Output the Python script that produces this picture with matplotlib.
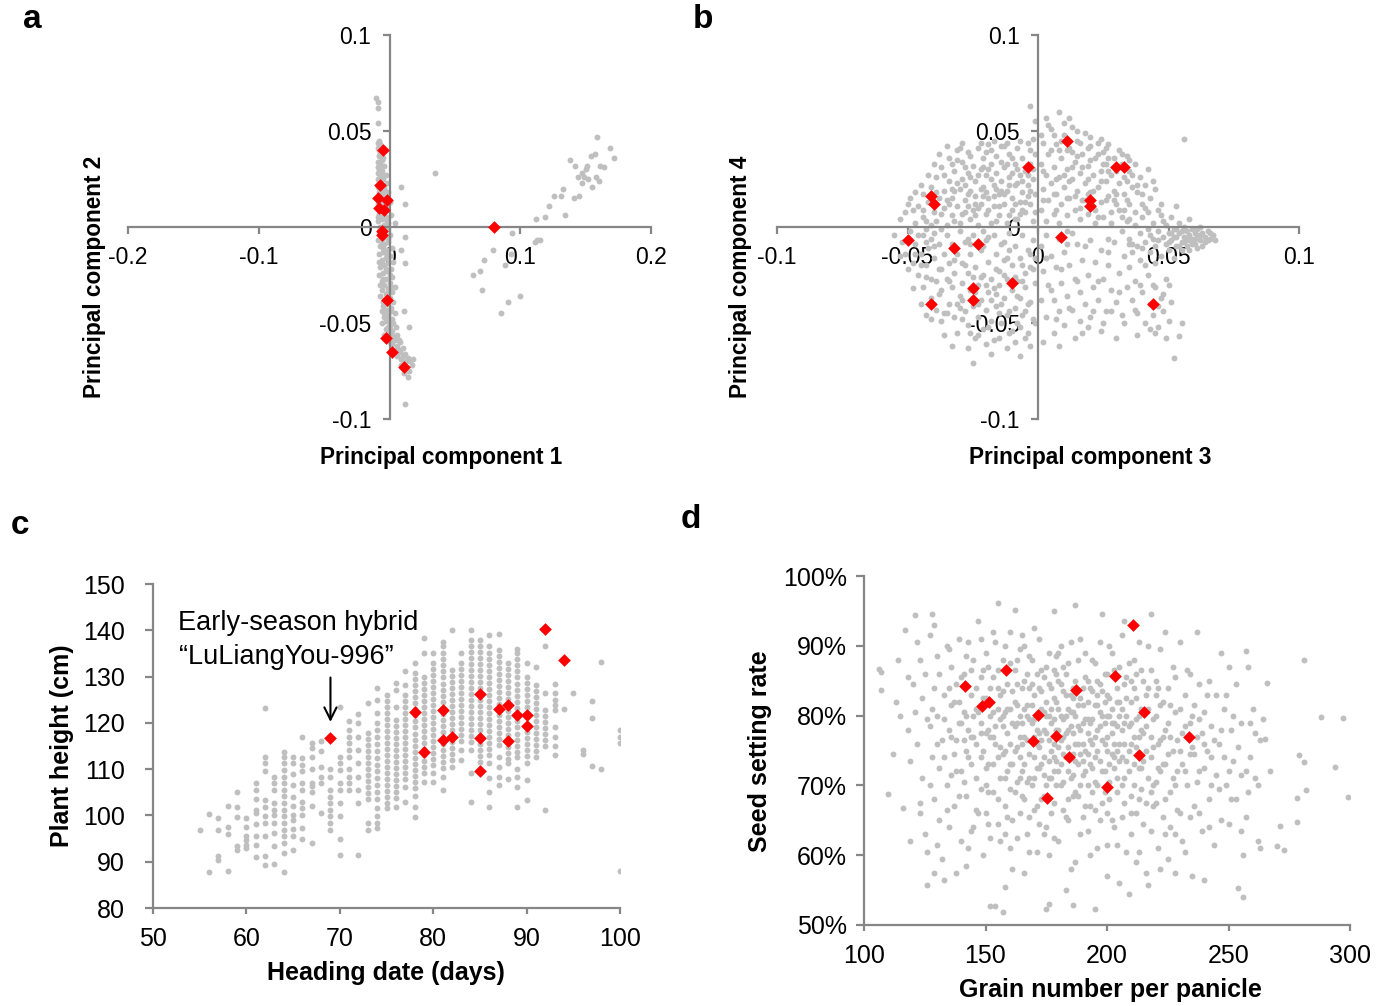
import numpy as np
import matplotlib.pyplot as plt
from matplotlib.ticker import FuncFormatter

plt.rcParams['font.family'] = ['Liberation Sans', 'DejaVu Sans']
plt.rcParams['axes.unicode_minus'] = False

GRAY = '#BFBFBF'
RED = '#FF0000'
AXC = '#868686'

# ---------------- panel a : PC1 vs PC2 (values x 1e-3) ----------------
pc12_gray = [
    (-8, 45), (-7, 43), (-9, 41), (-6, 39), (-8, 37), (-5, 36), (-9, 34), (-7, 33), (-4, 32), (-8, 30),
    (-6, 29), (-9, 28), (-3, 27), (-7, 26), (-5, 25), (-8, 24), (-2, 23), (-6, 22), (-9, 21), (-4, 20),
    (-7, 19), (-1, 18), (-5, 17), (-8, 16), (-3, 15), (-6, 14), (0, 13), (-9, 12), (-4, 11), (-7, 10),
    (-2, 9), (-5, 8), (-8, 7), (1, 6), (-3, 5), (-6, 4), (-9, 3), (-1, 2), (-4, 1), (-7, 0),
    (-2, -1), (-5, -2), (-8, -3), (0, -4), (-3, -5), (-6, -6), (-9, -7), (-1, -8), (-4, -9), (-7, -10),
    (2, -11), (-2, -12), (-5, -13), (-8, -14), (0, -15), (-3, -16), (-6, -17), (3, -18), (-1, -19), (-4, -20),
    (-7, -21), (1, -22), (-2, -23), (-5, -24), (-8, -25), (2, -26), (-3, -27), (-6, -28), (0, -29), (-4, -30),
    (4, -31), (-1, -32), (-6, -33), (2, -34), (-3, -35), (-7, -36), (0, -37), (-4, -38), (3, -39), (-2, -40),
    (-5, -41), (1, -42), (-3, -43), (-6, -44), (4, -45), (-1, -46), (-4, -47), (2, -48), (-2, -49), (-6, -50),
    (0, -51), (5, -52), (-3, -53), (2, -54), (-1, -55), (6, -56), (1, -57), (-2, -58), (4, -59), (8, -60),
    (2, -61), (6, -62), (10, -63), (4, -64), (8, -65), (12, -66), (6, -67), (14, -68), (9, -69), (16, -70),
    (11, -71), (18, -69), (13, -73), (15, -75), (11, -76), (14, -78), (9, -72), (17, -72),
    (-8, 40), (-6, 35), (-9, 31), (-5, 27), (-7, 23), (-4, 21), (-8, 18), (-6, 12), (-3, 10), (-8, 9),
    (-5, 6), (-2, 3), (-7, -1), (-4, -3), (-1, -6), (-5, -11), (-2, -14), (-6, -19), (-3, -22), (0, -25),
    (-5, -27), (1, -31), (-2, -36), (-5, -39), (1, -44), (-3, -48), (3, -50), (0, -53), (-4, -56), (3, -57),
    (0, -60), (5, -66), (7, -64), (-9, 44), (-7, 38), (-9, 25), (-7, 14), (-9, 5), (-6, -9), (-8, -18),
    (-7, -30), (-1, -34), (-4, -45), (-1, -52), (2, -58), (7, -59), (10, -67), (13, -70),
    (-10, 67), (-9, 65), (-9, 62), (-9, 54), (35, 28), (9, 21), (12, 12), (4, 2), (12, -5), (9, -12),
    (12, -19), (11, -44), (15, -52), (12, -92),
    (64, -25), (69, -23), (71, -33), (72, -17), (79, -12), (85, -45), (91, -39), (88, -20), (93, -14), (100, -36),
    (94, -3), (112, 4), (119, 5), (113, -7), (111, -8), (115, -7), (134, 6), (122, 11), (126, 16), (131, 16),
    (133, 20), (141, 15), (145, 16), (138, 35), (142, 32), (147, 28), (150, 30), (151, 32), (152, 25), (155, 21),
    (158, 26), (160, 24), (154, 37), (157, 38), (161, 32), (164, 31), (159, 47), (169, 41), (172, 36), (149, 26),
    (147, 23), (144, 26),
]
pc12_red = [
    (-5, 40), (-7, 22), (-9, 15), (-2, 14), (-8, 10), (-4, 9), (-6, -2), (-6, -4),
    (-2, -38), (-3, -58), (2, -65), (11, -73), (80, 0),
]

# ---------------- panel b : PC3 vs PC4 (values x 1e-3) ----------------
pc34_gray = [
    # upper left
    (-51, 8), (-49, 15), (-47, 2), (-46, 11), (-44, 17), (-44, 5), (-43, -1), (-42, 13), (-41, 21), (-40, 8),
    (-39, 26), (-39, 3), (-38, 15), (-37, 31), (-36, 19), (-36, 10), (-35, 1), (-34, 24), (-34, 36), (-33, 6),
    (-33, 15), (-32, 29), (-31, 40), (-31, 11), (-30, 20), (-30, 2), (-29, 34), (-29, 25), (-28, 8), (-28, 14),
    (-27, 39), (-27, 28), (-26, 19), (-26, 4), (-25, 32), (-25, 9), (-24, 24), (-24, 16), (-23, 41), (-23, 1),
    (-22, 30), (-22, 12), (-21, 21), (-21, 36), (-20, 7), (-20, 27), (-19, 15), (-19, 43), (-18, 33), (-18, 2),
    (-17, 22), (-17, 11), (-16, 37), (-16, 28), (-15, 17), (-15, 6), (-14, 42), (-14, 24), (-13, 12), (-13, 31),
    (-12, 2), (-12, 19), (-11, 38), (-11, 26), (-10, 9), (-10, 15), (-9, 33), (-9, 22), (-8, 4), (-8, 41),
    (-7, 27), (-7, 13), (-6, 36), (-6, 18), (-5, 8), (-5, 29), (-4, 44), (-4, 22), (-3, 12), (-3, 33),
    (-2, 3), (-2, 25), (-1, 17), (-1, 38),
    (-45, 22), (-42, 27), (-40, 33), (-38, 38), (-35, 42), (-33, 20), (-29, 44), (-26, 37), (-24, 6), (-21, 16),
    (-19, 30), (-16, 20), (-14, 34), (-12, 44), (-10, 28), (-8, 23), (-6, 9), (-4, 16), (-27, 17), (-32, 3),
    (-37, 7), (-48, 9), (-53, 4), (-50, 12), (-46, -4), (-41, -6), (-17, 45), (-23, 10), (-28, 31), (-33, 33),
    (-18, 25), (-11, 6), (-7, 45), (-2, 46), (-13, 17), (-9, 12), (-22, 44), (-36, 27), (-31, 23), (-20, 39),
    (-37, -1), (-34, 12), (-29, 7), (-26, 26), (-22, 20), (-18, 40), (-15, 11), (-12, 33), (-9, 4), (-6, 24),
    (-3, 40), (-44, 9), (-39, 18), (-31, 35), (-24, 12), (-19, 9), (-14, 19), (-10, 36), (-5, 13), (-2, 30),
    (-41, 1), (-35, 14), (-28, 22), (-23, 27), (-20, 18), (-16, 3), (-13, 42), (-8, 30), (-4, 27), (-1, 8),
    (-47, 18), (-43, 3), (-32, 19), (-27, 11), (-21, 31), (-17, 16), (-11, 22), (-7, 7), (-3, 19), (-30, 41),
    # upper right
    (1, 9), (1, 33), (2, 20), (2, 44), (3, 3), (3, 27), (4, 14), (4, 38), (5, 51), (5, 23),
    (6, 7), (6, 31), (7, 43), (7, 17), (8, 26), (8, 2), (9, 36), (9, 12), (10, 48), (10, 21),
    (11, 30), (11, 6), (12, 41), (12, 15), (13, 25), (13, 52), (14, 34), (14, 9), (15, 19), (15, 45),
    (16, 28), (16, 4), (17, 38), (17, 14), (18, 23), (18, 49), (19, 32), (19, 7), (20, 42), (20, 18),
    (21, 27), (21, 11), (22, 36), (22, 2), (23, 21), (23, 44), (24, 29), (24, 13), (25, 39), (25, 5),
    (26, 24), (26, 33), (27, 16), (27, 43), (28, 8), (28, 27), (29, 36), (29, 19), (30, 12), (30, 29),
    (31, 40), (31, 23), (32, 5), (32, 33), (33, 17), (33, 26), (34, 37), (35, 12), (35, 29), (36, 21),
    (37, 8), (37, 33), (38, 18), (39, 26), (40, 12), (41, 22), (42, 30), (43, 15), (45, 20), (47, 12),
    (3, 57), (8, 60), (12, 57), (6, 48), (10, 54), (15, 50), (20, 47), (23, 38), (13, 39), (16, 10),
    (26, 14), (31, 9), (35, 4), (2, 14), (7, 25), (11, 40), (19, 25), (24, 46), (28, 2), (34, 24),
    (56, 46), (-3, 63), (-1, 55),
    (2, 29), (5, 40), (7, 9), (9, 45), (12, 24), (14, 16), (17, 31), (19, 41), (21, 19), (23, 5),
    (25, 33), (27, 29), (30, 17), (32, 38), (34, 14), (36, 27), (4, 53), (8, 40), (11, 15), (13, 31),
    (16, 44), (18, 14), (20, 35), (22, 9), (24, 24), (26, 41), (29, 14), (31, 31), (33, 9), (38, 22),
    (40, 17), (42, 8), (44, 24), (1, 48), (6, 17), (10, 27), (15, 37), (19, 17), (27, 36), (35, 35),
    # right tail
    (32, -2), (34, 3), (35, -6), (37, 1), (38, -10), (39, -3), (40, 5), (41, -8), (42, -1), (43, -13),
    (44, 2), (44, -6), (45, -10), (46, -2), (47, -15), (47, 6), (48, -5), (49, -9), (49, 1), (50, -3),
    (50, -12), (51, -7), (52, -1), (52, -16), (53, -5), (53, -10), (54, -3), (54, 2), (55, -8), (55, -12),
    (56, -5), (56, 0), (57, -2), (57, -10), (58, -7), (58, -4), (59, -1), (59, -9), (60, -6), (60, -3),
    (61, -11), (61, -4), (62, -7), (62, 0), (63, -3), (64, -8), (64, -5), (65, -2), (66, -6), (67, -4),
    (68, -7), (46, 9), (51, 5), (58, 4), (53, 11), (41, 10), (36, -13), (45, -19),
    (40, -11), (43, -4), (46, -7), (48, 3), (50, -8), (52, -5), (54, -10), (56, -8), (58, -12), (60, -9),
    (62, -4), (63, -10), (65, -7), (57, -6), (55, -2), (53, -1), (51, -3), (59, -6), (61, -1), (66, -3),
    # lower left
    (-55, -4), (-52, -8), (-51, -14), (-49, -2), (-48, -19), (-47, -9), (-46, -25), (-45, -14), (-44, -4), (-44, -31),
    (-43, -20), (-42, -11), (-41, -37), (-41, -27), (-40, -16), (-40, -3), (-39, -43), (-38, -22), (-38, -9), (-37, -33),
    (-37, -49), (-36, -14), (-35, -27), (-35, -4), (-34, -40), (-34, -19), (-33, -31), (-33, -9), (-32, -47), (-32, -24),
    (-31, -14), (-31, -55), (-30, -36), (-30, -2), (-29, -29), (-29, -19), (-28, -44), (-28, -8), (-27, -51), (-27, -24),
    (-26, -33), (-26, -14), (-25, -41), (-25, -4), (-24, -58), (-24, -21), (-23, -30), (-23, -47), (-22, -12), (-22, -38),
    (-21, -25), (-21, -53), (-20, -43), (-20, -7), (-19, -18), (-19, -34), (-18, -49), (-18, -27), (-17, -4), (-17, -59),
    (-16, -14), (-16, -41), (-15, -30), (-15, -23), (-14, -50), (-14, -9), (-13, -37), (-13, -17), (-12, -46), (-12, -27),
    (-11, -3), (-11, -55), (-10, -33), (-10, -20), (-9, -42), (-9, -10), (-8, -28), (-8, -50), (-7, -16), (-7, -37),
    (-6, -4), (-6, -46), (-5, -24), (-5, -31), (-4, -12), (-4, -55), (-3, -39), (-3, -21), (-2, -7), (-2, -48),
    (-1, -29), (-1, -16),
    (-45, -40), (-43, -46), (-39, -28), (-36, -56), (-33, -62), (-29, -48), (-27, -63), (-25, -71), (-23, -56), (-20, -61),
    (-18, -66), (-15, -58), (-12, -63), (-9, -60), (-7, -67), (-5, -58), (-3, -62), (-30, -42), (-36, -45), (-48, -32),
    (-50, -22), (-53, -15), (-43, -8), (-26, -9), (-21, -2), (-16, -35), (-11, -44), (-6, -20), (-13, -8), (-19, -5),
    (-47, -14), (-43, -26), (-40, -10), (-38, -35), (-35, -45), (-32, -17), (-29, -38), (-27, -6), (-25, -26), (-23, -40),
    (-21, -10), (-19, -52), (-17, -32), (-15, -45), (-13, -25), (-11, -12), (-9, -26), (-7, -52), (-5, -44), (-3, -14),
    (-1, -50), (-45, -20), (-41, -48), (-37, -22), (-34, -28), (-31, -40), (-28, -20), (-26, -55), (-24, -34), (-22, -26),
    (-20, -30), (-18, -38), (-16, -22), (-14, -40), (-12, -16), (-10, -54), (-8, -36), (-6, -28), (-4, -40), (-2, -22),
    # lower right
    (1, -10), (1, -38), (2, -23), (3, -4), (3, -47), (4, -30), (5, -15), (6, -55), (6, -38), (7, -21),
    (8, -6), (8, -44), (9, -29), (10, -13), (10, -51), (11, -36), (12, -20), (13, -3), (13, -43), (14, -27),
    (15, -9), (16, -49), (16, -34), (17, -17), (18, -40), (19, -25), (20, -7), (20, -47), (21, -31), (22, -18),
    (23, -38), (24, -12), (25, -27), (26, -44), (27, -20), (28, -33), (29, -8), (30, -39), (31, -24), (32, -46),
    (33, -15), (34, -31), (35, -21), (36, -38), (37, -28), (38, -45), (39, -17), (40, -34), (41, -50), (42, -25),
    (43, -40), (44, -46), (45, -31), (46, -52), (47, -37), (48, -44), (49, -27), (50, -49), (51, -39), (52, -68),
    (55, -50), (38, -56), (30, -58), (14, -58), (8, -62), (45, -55), (49, -58), (54, -57), (24, -54), (19, -52),
    (2, -60), (27, -6), (36, -9), (11, -2),
    (3, -16), (5, -33), (7, -48), (9, -22), (11, -9), (12, -42), (15, -28), (17, -55), (18, -10), (21, -44),
    (23, -28), (25, -50), (27, -13), (28, -44), (31, -34), (33, -50), (35, -9), (37, -43), (39, -30), (41, -20),
    (43, -53), (44, -30), (46, -41), (48, -35), (50, -30),
]
pc34_red = [
    (11, 45), (-4, 31), (30, 31), (33, 31), (-41, 16), (-40, 12), (20, 14), (20, 11),
    (9, -5), (-50, -7), (-32, -11), (-23, -9), (-10, -29), (-25, -32), (-25, -38), (-41, -40), (44, -40),
]

# ---------------- panel c : heading date vs plant height ----------------
heading_days = [55, 56, 57, 58, 59, 60, 61, 62, 63, 64, 65, 66, 67, 68, 69, 70, 71, 72, 73, 74,
                75, 76, 77, 78, 79, 80, 81, 82, 83, 84, 85, 86, 87, 88, 89, 90, 91, 92, 93, 94,
                95, 96, 97, 98, 100]
plant_heights = [
    [96.8],
    [100.4, 87.8],
    [99.4, 96.8, 91.2, 90.3],
    [102.1, 97.6, 96.0, 88.0],
    [105.0, 101.8, 99.6, 93.5, 92.6],
    [99.4, 97.6, 95.5, 94.6, 93.6, 92.9],
    [107.0, 105.5, 103.6, 101.2, 100.5, 98.2, 95.5, 93.7, 91.0],
    [123.2, 112.7, 111.3, 109.5, 103.4, 101.9, 99.8, 98.3, 95.5, 91.2, 89.2],
    [108.4, 107.0, 105.5, 102.7, 101.2, 100.1, 98.3, 96.2, 93.3, 89.4],
    [113.6, 112.7, 111.3, 109.8, 108.4, 107.0, 105.5, 104.1, 102.7, 101.2, 99.8, 98.3, 96.9, 95.5, 94.0, 91.9, 87.7],
    [112.7, 111.3, 109.0, 106.5, 104.0, 102.0, 100.0, 99.0, 97.0, 95.5, 92.5],
    [117.0, 112.5, 111.0, 109.5, 107.0, 105.5, 103.0, 101.5, 100.0, 97.3, 95.0],
    [115.6, 114.5, 112.7, 110.0, 107.0, 106.3, 105.0, 102.0, 94.0],
    [116.0, 114.0, 110.5, 108.4, 107.0, 100.5],
    [110.0, 108.4, 105.5, 104.0, 102.7, 101.2, 99.8, 98.3, 96.9],
    [123.5, 112.7, 111.3, 109.8, 107.0, 105.5, 102.7, 99.8, 95.0, 91.5],
    [120.3, 118.5, 117.0, 115.6, 114.2, 112.7, 110.0, 108.4, 107.0, 105.5],
    [122.0, 120.0, 117.0, 114.2, 111.3, 108.4, 105.5, 102.7, 91.5],
    [124.2, 117.8, 116.5, 115.2, 113.9, 112.6, 111.3, 110.0, 108.7, 107.4, 106.1, 104.8, 103.5, 98.3, 96.9],
    [127.5, 125.0, 122.1, 120.0, 118.5, 117.0, 115.5, 114.0, 112.5, 111.0, 109.5, 108.0, 106.5, 105.0, 103.5,
     101.5, 99.8, 98.3, 97.2],
    [126.0, 124.7, 123.4, 122.1, 120.8, 119.5, 118.2, 116.9, 115.6, 114.3, 113.0, 111.7, 110.4, 109.1, 107.8,
     106.5, 105.2, 103.9, 102.6, 101.5],
    [128.7, 127.1, 123.5, 120.6, 119.3, 118.0, 116.7, 115.4, 114.1, 112.8, 111.5, 110.2, 108.9, 107.6, 106.3,
     105.0, 103.7, 101.9],
    [131.1, 128.2, 126.0, 124.7, 123.4, 122.1, 120.8, 119.5, 118.2, 116.9, 115.6, 114.3, 113.0, 111.7, 110.4,
     109.1, 107.8, 106.2, 103.0],
    [132.9, 130.7, 129.4, 128.1, 126.8, 125.5, 124.2, 122.9, 121.6, 120.3, 119.0, 117.7, 116.4, 115.1, 113.8,
     112.5, 111.2, 109.9, 108.6, 107.3, 106.0, 104.1, 101.9, 99.6],
    [138.4, 135.0, 130.0, 128.7, 127.4, 126.1, 124.8, 123.5, 122.2, 120.9, 119.6, 118.3, 117.0, 115.7, 114.4,
     113.1, 111.8, 110.5, 109.1, 107.3],
    [135.0, 132.9, 131.6, 130.3, 129.0, 127.7, 126.4, 125.1, 123.8, 122.5, 121.2, 119.9, 118.6, 117.3, 116.0,
     114.7, 113.4, 112.1, 110.8, 109.1, 107.3],
    [137.4, 136.5, 135.0, 133.7, 132.4, 131.1, 129.8, 128.5, 127.2, 125.9, 124.6, 123.3, 122.0, 120.7, 119.4,
     118.1, 116.8, 115.5, 114.2, 112.9, 111.6, 110.3, 108.4, 105.5],
    [140.1, 131.4, 130.1, 128.8, 127.5, 126.2, 124.9, 123.6, 122.3, 121.0, 119.7, 118.4, 117.1, 115.8, 114.5,
     113.2, 112.0, 110.5],
    [135.0, 132.9, 131.6, 130.3, 129.0, 127.7, 126.4, 125.1, 123.8, 122.5, 121.2, 119.9, 118.6, 117.3, 116.0,
     114.1, 112.0],
    [140.1, 137.9, 136.6, 135.3, 134.0, 132.7, 131.4, 130.1, 128.8, 127.5, 126.2, 124.9, 123.6, 122.3, 121.0,
     119.7, 118.4, 117.1, 115.8, 114.1, 109.1, 103.0],
    [137.9, 136.6, 135.3, 134.0, 132.7, 131.4, 130.1, 128.8, 127.5, 124.9, 123.6, 122.3, 121.0, 119.7, 118.4,
     117.1, 115.5, 114.2, 112.9, 111.6],
    [139.0, 136.5, 135.2, 133.9, 132.6, 131.3, 130.0, 128.7, 127.4, 126.1, 124.8, 123.5, 122.2, 120.9, 119.6,
     118.3, 117.0, 115.7, 114.4, 113.1, 111.3, 108.0, 105.0, 101.8],
    [139.3, 135.7, 134.4, 133.1, 131.8, 130.5, 129.2, 127.9, 126.6, 125.3, 124.0, 121.7, 120.4, 119.1, 117.8,
     116.5, 115.2, 112.7, 110.5, 108.4, 106.6],
    [132.9, 131.6, 130.3, 129.0, 127.7, 126.4, 125.1, 122.5, 121.2, 119.9, 118.6, 117.3, 114.7, 113.4, 112.1,
     111.3, 107.8],
    [135.9, 135.0, 133.7, 132.4, 131.1, 129.8, 128.5, 127.2, 125.9, 124.6, 123.3, 120.3, 119.0, 117.7, 116.4,
     115.1, 113.8, 112.7, 110.0, 108.2, 106.2, 101.9],
    [132.9, 130.0, 128.7, 127.4, 126.1, 124.8, 123.5, 122.2, 118.0, 116.7, 115.4, 114.1, 112.8, 111.3, 107.7, 103.3],
    [132.1, 128.2, 126.9, 125.6, 124.3, 123.0, 121.7, 120.4, 119.1, 117.8, 116.5, 115.2, 113.9, 112.7],
    [136.5, 126.4, 122.8, 121.5, 120.2, 118.9, 117.6, 116.3, 114.9, 101.2],
    [128.5, 126.4, 124.9, 123.8, 122.8, 119.2, 117.0, 114.9, 113.1],
    [123.1],
    [126.4],
    [114.1, 113.3],
    [124.7, 121.0, 110.7],
    [133.1, 110.0],
    [118.5, 117.0, 115.7, 88.0],
]
red_days = [69, 78, 79, 81, 81, 82, 85, 85, 85, 87, 88, 88, 89, 90, 90, 92, 94]
red_heights = [116.7, 122.3, 113.6, 122.7, 116.3, 117.0, 126.3, 116.7, 109.7, 123.0, 123.9, 116.0,
               121.6, 121.6, 119.4, 140.3, 133.6]

# ---------------- panel d : grain number vs seed setting rate (%) ----------------
grain_rate_gray = [
    (106, 86.7), (107, 86.2), (107, 83.6), (110, 68.7), (116, 66.7), (113, 82), (115, 80), (117, 92.2), (118, 78),
    (119, 73.5), (120, 84.5), (121, 94.4), (121, 80.5), (122, 76), (123, 88), (124, 71), (124, 82.5), (125, 86),
    (125, 63), (126, 55.8), (126, 60.5), (127, 78.5), (127, 91.5), (128, 94.6), (128, 74), (129, 68), (129, 84),
    (130, 80), (130, 88.5), (131, 65), (131, 72.5), (132, 76.5), (132, 59.5), (133, 83), (133, 56.4), (134, 90),
    (134, 70), (135, 78), (135, 64), (136, 81.5), (136, 87), (137, 74.5), (137, 67), (138, 84.5), (138, 57.5),
    (139, 79), (139, 91), (140, 72), (140, 62),
    (141, 76.5), (141, 86), (142, 80), (142, 68.5), (143, 90.5), (143, 74), (144, 83), (144, 63.5), (145, 77),
    (145, 88), (146, 71), (146, 81), (147, 93.5), (147, 66), (148, 79), (148, 85.5), (149, 75), (149, 60),
    (150, 82.5), (150, 70), (150, 89), (151, 78), (151, 64.5), (152, 52.7), (152, 84), (153, 73), (153, 80.5),
    (153, 92), (154, 52.7), (154, 76), (155, 96.2), (155, 86.5), (155, 68), (156, 79.5), (156, 62), (157, 51.8),
    (157, 74.5), (157, 83.5), (158, 71), (158, 90), (159, 77.5), (159, 65.5), (160, 81), (160, 87.5), (161, 73),
    (161, 58), (162, 95.1), (162, 78.5), (162, 69), (163, 84.5), (163, 75.5), (164, 66), (164, 80), (165, 91.5),
    (165, 72),
    (166, 77), (166, 85), (167, 63), (167, 81.5), (168, 74.5), (168, 88.5), (169, 70), (169, 79), (170, 83),
    (170, 66.5), (170, 92.5), (171, 76), (171, 60.5), (172, 80.5), (172, 72.5), (173, 86.5), (173, 68), (174, 78),
    (174, 74), (175, 52.3), (175, 82), (175, 64), (176, 53), (176, 89), (176, 76.5), (177, 71), (177, 84),
    (178, 95), (178, 79.5), (178, 67.5), (179, 73.5), (179, 86), (180, 81), (180, 62), (180, 75.5), (181, 90),
    (181, 70), (182, 83.5), (182, 77), (183, 65.5), (183, 80), (184, 72), (184, 87.5), (185, 58), (185, 78.5),
    (186, 52.9), (186, 84), (186, 74.5), (187, 95.8), (187, 69), (188, 81.5), (188, 76), (189, 91), (189, 63),
    (190, 79), (190, 71.5),
    (191, 85.5), (191, 67), (192, 77.5), (192, 82), (193, 73), (193, 60), (194, 88), (194, 79.5), (195, 52.3),
    (195, 70.5), (196, 83), (196, 75), (197, 65), (197, 90.5), (198, 94.6), (198, 80), (199, 72), (199, 86),
    (200, 77), (200, 61.5), (201, 68), (201, 82.5), (202, 74.5), (202, 89), (203, 79), (203, 64), (204, 84),
    (204, 71), (205, 56), (205, 76), (206, 81), (206, 91.5), (207, 93.5), (207, 67.5), (208, 73.5), (208, 85.5),
    (209, 54.5), (209, 78.5), (210, 63), (210, 82), (211, 70), (211, 88), (212, 75.5), (212, 59), (213, 80),
    (213, 68), (214, 86.5), (214, 72.5), (215, 77.5), (215, 64.5),
    (216, 83), (216, 57.5), (217, 55.8), (217, 90), (218, 94.6), (218, 74), (219, 79.5), (219, 67), (220, 85),
    (220, 70.5), (221, 61), (221, 76), (222, 81.5), (222, 89.5), (223, 65.5), (223, 73), (224, 78), (224, 92),
    (225, 84), (225, 59.5), (226, 69), (227, 75), (227, 87), (228, 80.5), (228, 63), (229, 72), (230, 90.5),
    (230, 66), (231, 77.5), (232, 83), (232, 60.5), (233, 70), (234, 86), (234, 74.5), (235, 57), (235, 80),
    (236, 67), (237, 92), (237, 77), (238, 72), (238, 84.5), (239, 63.5), (240, 80.5), (240, 56.5), (241, 75),
    (242, 68), (242, 85), (243, 78.5), (244, 61.5), (245, 83), (245, 71.5),
    (246, 76), (247, 89), (247, 65), (248, 81), (249, 70), (250, 87), (250, 64.5), (251, 78), (252, 73.5),
    (253, 84.5), (253, 68), (254, 55.3), (255, 79), (255, 71.5), (256, 54), (256, 60), (257, 89.3), (257, 65.5),
    (258, 87), (258, 69), (259, 74), (260, 81), (261, 77.5), (262, 62), (262, 70), (263, 61), (264, 79.5),
    (265, 76.6), (266, 84.6), (267, 72), (270, 61.3), (271, 64.2), (273, 60.8), (278, 64.8), (278, 68.2),
    (279, 74.3), (281, 73.3), (281, 88), (282, 69.4), (288, 79.8), (294, 72.6), (297, 79.6), (299, 68.4),
    (158, 80.5), (160, 76), (161, 83.5), (163, 79), (164, 74), (166, 81), (167, 76.5), (168, 79.5), (169, 84.5),
    (171, 78), (172, 75.5), (173, 81), (174, 85.5), (175, 77.5), (176, 80), (177, 75), (178, 82.5), (179, 78),
    (180, 85), (181, 76.5), (182, 79.5), (183, 74), (184, 81), (185, 83), (186, 77.5), (187, 80), (188, 73),
    (189, 82.5), (190, 76), (191, 79.5), (192, 74.5), (193, 84), (194, 76), (195, 81.5), (196, 78), (197, 73.5),
    (198, 83.5), (199, 79), (200, 75), (201, 80), (202, 77.5), (203, 72.5), (204, 78.5), (205, 82), (206, 74),
    (207, 79), (170, 74), (174, 71.5), (178, 72), (182, 70.5), (186, 68.5), (190, 73.5), (165, 79), (163, 70.5),
    (157, 78.5), (152, 77), (155, 81), (148, 74), (210, 76), (212, 79.5), (218, 77), (221, 72.5), (225, 79),
    (112, 74.5), (114, 88), (118, 85.5), (119, 62), (122, 90.5), (123, 67.5), (126, 79.5), (127, 70), (129, 93),
    (130, 61.5), (131, 86), (133, 74), (134, 66.5), (135, 89.5), (136, 71.5), (137, 82), (138, 76.5), (139, 68.5),
    (140, 85.5), (140, 79), (141, 70.5), (142, 88.5), (142, 58.5), (143, 78), (144, 73), (144, 86.5), (145, 64),
    (146, 84), (146, 76), (147, 80.5), (148, 69.5), (148, 91), (149, 82.5), (150, 77.5), (150, 66), (151, 87),
    (151, 73), (152, 80), (152, 62.5), (153, 85.5), (153, 69), (154, 78.5), (154, 90.5), (155, 74), (155, 64.5),
    (156, 83), (156, 71), (157, 88), (157, 80), (158, 67), (158, 75), (159, 84.5), (159, 72), (160, 69.5),
    (160, 92), (161, 79), (161, 65), (162, 86.5), (162, 75), (163, 81.5), (163, 62.5), (164, 77), (164, 89.5),
    (165, 84), (165, 68.5), (166, 73), (166, 90), (167, 80), (167, 70.5), (168, 84), (168, 65.5), (169, 76.5),
    (169, 88), (170, 79.5), (170, 71), (171, 86), (171, 67), (172, 77.5), (172, 91), (173, 73), (173, 83.5),
    (174, 63), (174, 80.5), (175, 87), (175, 70), (176, 73.5), (176, 84.5), (177, 79), (177, 66), (178, 86.5),
    (178, 76), (179, 70), (179, 82), (180, 78), (180, 89), (181, 73), (181, 84.5), (182, 66.5), (182, 87),
    (183, 77.5), (183, 83), (184, 75.5), (184, 68), (185, 80.5), (185, 90.5), (186, 71.5), (186, 80.5), (187, 76),
    (187, 85), (188, 68.5), (188, 88), (189, 78), (189, 74.5), (190, 84), (190, 65.5), (191, 75), (191, 89),
    (192, 70), (192, 85), (193, 79), (193, 67), (194, 83.5), (194, 72.5), (195, 77), (195, 87.5), (196, 70),
    (196, 81.5), (197, 78.5), (197, 84.5), (198, 67.5), (198, 76.5), (199, 82), (199, 69), (200, 86), (200, 80),
    (201, 73), (201, 90), (202, 81), (202, 65), (203, 86.5), (203, 76), (204, 69), (204, 82), (205, 73.5),
    (205, 87), (206, 78), (206, 65.5), (207, 84.5), (207, 71), (208, 80), (208, 60.5), (209, 75), (209, 87.5),
    (210, 68.5), (210, 79), (211, 84), (211, 73), (212, 66), (212, 86), (213, 77), (213, 90.5), (214, 69.5),
    (214, 81), (215, 73.5), (215, 85), (216, 67.5), (216, 78.5), (217, 81), (217, 71), (218, 86.5), (218, 63.5),
    (219, 75.5), (220, 80), (220, 67.5), (221, 84), (222, 72), (222, 58), (223, 77), (223, 82), (224, 68),
    (225, 74.5), (226, 81.5), (226, 64), (227, 71), (228, 85.5), (229, 76.5), (229, 66.5), (230, 81), (231, 73),
    (231, 62), (232, 78.5), (233, 86.5), (234, 65.5), (235, 75.5), (236, 81.5), (237, 70.5), (238, 66),
    (239, 77.5), (240, 72.5), (241, 83), (242, 64), (243, 70), (244, 76.5), (246, 69.5), (248, 74), (249, 83),
    (251, 68), (252, 80), (254, 75.5), (255, 63.5), (257, 72), (259, 79), (261, 71), (263, 76.5), (204, 61.5),
    (196, 61), (187, 59), (176, 60), (166, 57.5), (158, 55.5), (143, 61), (183, 55), (200, 57), (213, 60.5),
    (228, 57.5), (129, 57.5), (123, 66),
    (135, 84), (138, 72), (141, 80.5), (144, 77), (146, 66.5), (149, 86.5), (151, 69), (153, 77), (155, 84),
    (156, 75.5), (158, 63), (159, 81), (160, 73), (162, 82), (163, 88), (164, 71), (165, 76), (166, 68),
    (167, 86), (168, 71), (169, 81.5), (170, 77), (171, 72.5), (172, 84), (173, 76.5), (174, 68.5), (175, 80),
    (176, 71), (177, 81), (178, 74), (179, 88.5), (180, 72), (181, 80), (182, 74.5), (183, 86), (184, 78),
    (185, 71), (186, 82.5), (187, 73.5), (188, 78.5), (189, 70), (190, 81.5), (191, 72), (192, 79.5), (193, 76.5),
    (194, 69), (195, 74), (196, 85), (197, 80.5), (198, 72), (199, 76), (200, 83), (201, 70.5), (202, 79),
    (203, 74), (204, 75), (205, 80), (206, 70), (207, 76), (208, 82.5), (209, 72), (210, 85), (211, 77),
    (212, 82.5), (213, 72.5), (214, 78), (216, 75), (217, 84), (219, 70), (220, 83), (222, 76.5), (224, 73),
    (226, 77), (228, 70), (230, 75), (232, 72), (234, 79), (236, 74.5), (238, 79.5), (240, 76), (243, 74),
    (247, 78), (250, 72), (148, 77.5), (145, 80), (142, 75), (139, 82), (136, 77), (133, 79.5), (130, 76),
    (128, 81), (184, 65), (192, 63.5), (172, 64.5), (200, 66), (210, 66), (160, 61), (150, 72.5), (218, 69),
    (224, 63), (178, 62.5), (168, 60.5), (195, 66.5),
]
grain_rate_red = [
    (210.9, 93.0), (158.5, 86.6), (141.7, 84.2), (203.2, 85.7), (187.2, 83.6), (148.7, 81.4), (151.6, 81.9),
    (171.4, 80.1), (215.1, 80.5), (169.7, 76.3), (179.2, 77.1), (233.6, 76.9), (184.5, 74.0), (213.3, 74.3),
    (200.0, 69.7), (175.5, 68.2),
]

W, H = 1387, 1006
fig = plt.figure(figsize=(W / 100, H / 100), dpi=100)


def add_px_axes(l, t, r, b):
    return fig.add_axes([l / W, 1 - b / H, (r - l) / W, (b - t) / H])


def fig_text(x, y, s, **kw):
    fig.text(x / W, 1 - y / H, s, **kw)


def style_spines(ax, cross):
    for s in ('top', 'right'):
        ax.spines[s].set_visible(False)
    for s in ('left', 'bottom'):
        ax.spines[s].set_color(AXC)
        ax.spines[s].set_linewidth(1.6)
        if cross:
            ax.spines[s].set_position(('data', 0))
    ax.tick_params(direction='out', width=1.6, color=AXC)
    ax.patch.set_alpha(0)


gfmt = FuncFormatter(lambda v, p: f'{v:g}')
DOT = 18
DIA = 42

# panel a
ax = add_px_axes(128, 35, 651, 419)
g = np.array(pc12_gray) / 1000
r = np.array(pc12_red) / 1000
ax.scatter(g[:, 0], g[:, 1], s=DOT, color=GRAY, linewidths=0, zorder=2)
ax.scatter(r[:, 0], r[:, 1], s=DIA, marker='D', color=RED, linewidths=0, zorder=3)
ax.set_xlim(-0.2, 0.2)
ax.set_ylim(-0.1, 0.1)
ax.set_xticks([-0.2, -0.1, 0, 0.1, 0.2])
ax.set_yticks([-0.1, -0.05, 0, 0.05, 0.1])
ax.xaxis.set_major_formatter(gfmt)
ax.yaxis.set_major_formatter(gfmt)
style_spines(ax, True)
ax.tick_params(axis='x', length=5, pad=9, labelsize=16.5)
ax.tick_params(axis='y', length=5, pad=8, labelsize=16.5)

# panel b
ax = add_px_axes(777, 35, 1299, 419)
g = np.array(pc34_gray) / 1000
r = np.array(pc34_red) / 1000
ax.scatter(g[:, 0], g[:, 1], s=DOT, color=GRAY, linewidths=0, zorder=2)
ax.scatter(r[:, 0], r[:, 1], s=DIA, marker='D', color=RED, linewidths=0, zorder=3)
ax.set_xlim(-0.1, 0.1)
ax.set_ylim(-0.1, 0.1)
ax.set_xticks([-0.1, -0.05, 0, 0.05, 0.1])
ax.set_yticks([-0.1, -0.05, 0, 0.05, 0.1])
ax.xaxis.set_major_formatter(gfmt)
ax.yaxis.set_major_formatter(gfmt)
style_spines(ax, True)
ax.tick_params(axis='x', length=5, pad=9, labelsize=16.5)
ax.tick_params(axis='y', length=5, pad=8, labelsize=16.5)

# panel c
ax = add_px_axes(153, 584, 620, 908)
cx = [d for d, hs in zip(heading_days, plant_heights) for _ in hs]
cy = [h for hs in plant_heights for h in hs]
ax.scatter(cx, cy, s=DOT, color=GRAY, linewidths=0, zorder=2)
ax.scatter(red_days, red_heights, s=DIA, marker='D', color=RED, linewidths=0, zorder=3)
ax.set_xlim(50, 100)
ax.set_ylim(80, 150)
ax.set_xticks(range(50, 101, 10))
ax.set_yticks(range(80, 151, 10))
style_spines(ax, False)
ax.tick_params(axis='x', length=4, pad=9.5, labelsize=18)
ax.tick_params(axis='y', length=6, pad=14, labelsize=18)
ax.annotate('', xy=(69, 119.6), xytext=(69, 130.4),
            arrowprops=dict(arrowstyle='->', color='black', lw=1.5, mutation_scale=22))
ax.text(52.7, 141.6, 'Early-season hybrid', fontsize=19.5, ha='left', va='center')
ax.text(52.8, 134.3, '\u201cLuLiangYou-996\u201d', fontsize=19.5, ha='left', va='center')

# panel d
ax = add_px_axes(864, 576, 1350, 925)
g = np.array(grain_rate_gray)
r = np.array(grain_rate_red)
ax.scatter(g[:, 0], g[:, 1], s=DOT, color=GRAY, linewidths=0, zorder=2)
ax.scatter(r[:, 0], r[:, 1], s=DIA, marker='D', color=RED, linewidths=0, zorder=3)
ax.set_xlim(100, 300)
ax.set_ylim(50, 100)
ax.set_xticks(range(100, 301, 50))
ax.set_yticks(range(50, 101, 10))
ax.yaxis.set_major_formatter(FuncFormatter(lambda v, p: f'{v:.0f}%'))
style_spines(ax, False)
ax.tick_params(axis='x', length=4, pad=10, labelsize=18)
ax.tick_params(axis='y', length=6, pad=6.5, labelsize=18)

# axis titles
bold16 = dict(fontsize=16.3, fontweight='bold', ha='center', va='center')
bold18 = dict(fontsize=18, fontweight='bold', ha='center', va='center')
fig_text(441, 458, 'Principal component 1', **bold16)
fig_text(95, 277, 'Principal component 2', rotation=90, **bold16)
fig_text(1090, 458, 'Principal component 3', **bold16)
fig_text(741, 277, 'Principal component 4', rotation=90, **bold16)
fig_text(386, 973, 'Heading date (days)', **bold18)
fig_text(62, 746, 'Plant height (cm)', rotation=90, **bold18)
fig_text(1110, 990, 'Grain number per panicle', **bold18)
fig_text(760, 751, 'Seed setting rate', rotation=90, **bold18)

# panel letters
letter = dict(fontsize=24, fontweight='bold', ha='center', va='center')
fig_text(32, 20, 'a', **letter)
fig_text(703, 20, 'b', **letter)
fig_text(20, 525, 'c', **letter)
fig_text(691, 520, 'd', **letter)

fig.savefig('out.png', dpi=100)
